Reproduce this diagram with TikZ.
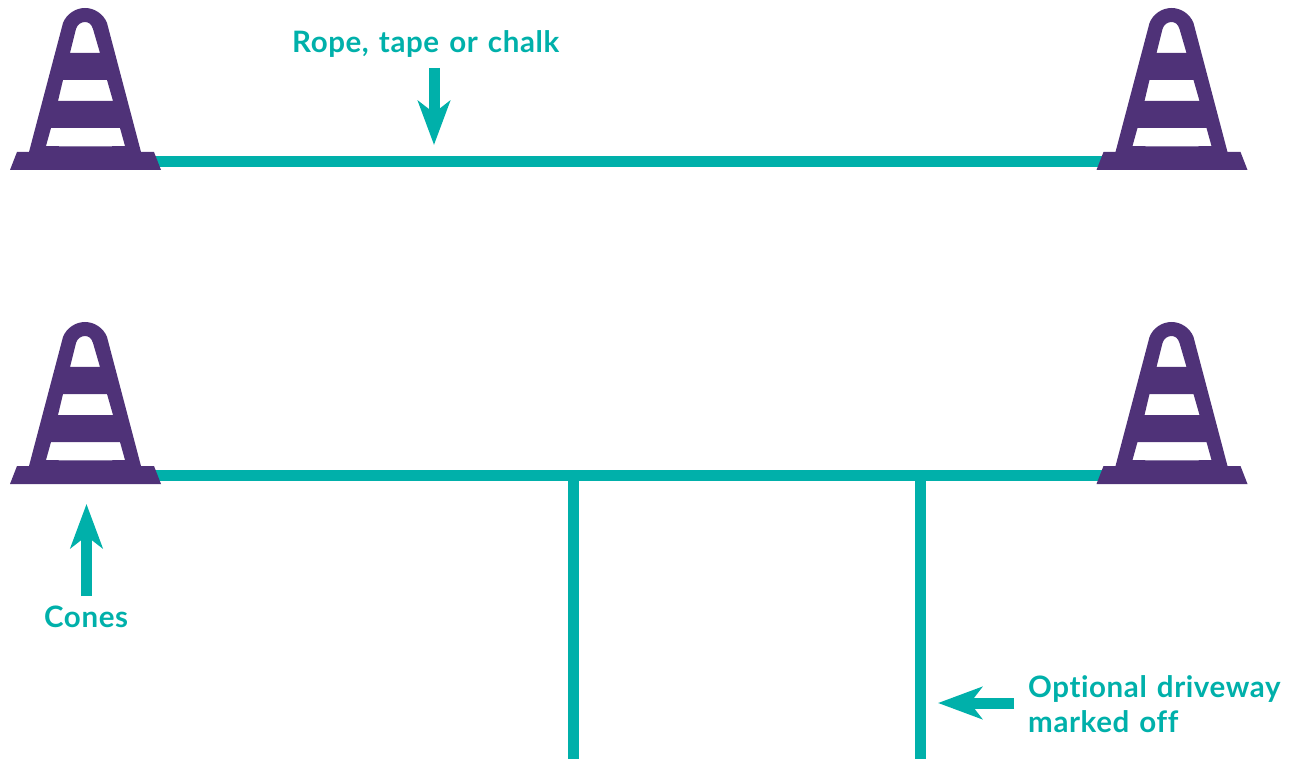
\documentclass[tikz,border=0pt]{standalone}
\usepackage{fontspec}
\setmainfont{Lato}[LetterSpace=2,WordSpace=1.3,Ligatures=NoCommon]
\usepackage{tikz}
\usetikzlibrary{arrows.meta,positioning}

\definecolor{conepurple}{HTML}{4F3278}
\definecolor{ropeteal}{HTML}{00B0AA}

\tikzset{
  cone/.pic={
    \fill[conepurple,even odd rule] (-75.5,9) -- (-68.5,-9) -- (-56.5,-9) -- (-22.5,-138)
        .. controls (-19,-147) and (-10,-153) .. (-0.5,-153)
        .. controls (9,-153) and (18,-147) .. (21.5,-138)
        -- (55.5,-9) -- (68.5,-9) -- (75.5,9) -- cycle
        (-15.5,-108) -- (-9.5,-132) .. controls (-8,-137) and (-4,-139) .. (-0.5,-139)
        .. controls (3,-139) and (6,-137) .. (7.5,-132) -- (14.5,-108) -- cycle
        (-27.5,-60) -- (-22.5,-81) -- (21.5,-81) -- (27.5,-60) -- cycle
        (-39.5,-15) -- (-34.5,-33) -- (34.5,-33) -- (39.5,-15) .. controls (15,-14.4) and (-15,-14.4) .. (-39.5,-15) -- cycle;
  },
  rope/.style={draw=ropeteal,line width=11pt},
  pointer/.style={ropeteal,line width=11pt,-{Stealth[length=44pt,width=32pt,inset=12pt]}},
  lbl/.style={text=ropeteal,font=\fontsize{29.5}{35}\selectfont\bfseries,inner sep=0pt,anchor=base west,align=left}
}

\begin{document}
\begin{tikzpicture}[x=1pt,y=-1pt]
\useasboundingbox (0,0) rectangle (1291,759);

\coordinate (topleft) at (85.5,161.5);
\coordinate (topright) at (1172,161.5);
\coordinate (lowleft) at (85.5,475.5);
\coordinate (lowright) at (1172,475.5);
\coordinate (driveA) at (573.7,475.5);
\coordinate (driveB) at (920,475.5);
\coordinate (endA) at (573.7,759);
\coordinate (endB) at (920,759);

% lines on the ground
\draw[rope] (topleft) -- (topright);
\draw[rope] (lowleft) -- (lowright);
\draw[rope] (driveA) -- (endA);
\draw[rope] (driveB) -- (endB);

% cones
\pic at (85.5,161) {cone};
\pic at (1172,161) {cone};
\pic at (85.5,475) {cone};
\pic at (1172,475) {cone};

% labels
\node[lbl] (ropelabel) at (292,53) {Rope, tape or chalk};
\node[lbl] (coneslabel) at (44,627) {Cones};
\node[lbl] (drivelabel) at (1028,697.5) {Optional driveway};
\node[lbl] (drivelabelb) at (1028,732) {marked off};

\coordinate (ropetail) at (434,68);
\coordinate (ropetip) at (434,145);
\coordinate (conestail) at (86.5,596);
\coordinate (conestip) at (86.5,504);
\coordinate (drivetail) at (1014,703);
\coordinate (drivetip) at (938,703);

\draw[pointer] (ropetail) -- (ropetip);
\draw[pointer] (conestail) -- (conestip);
\draw[pointer] (drivetail) -- (drivetip);
\end{tikzpicture}
\end{document}
